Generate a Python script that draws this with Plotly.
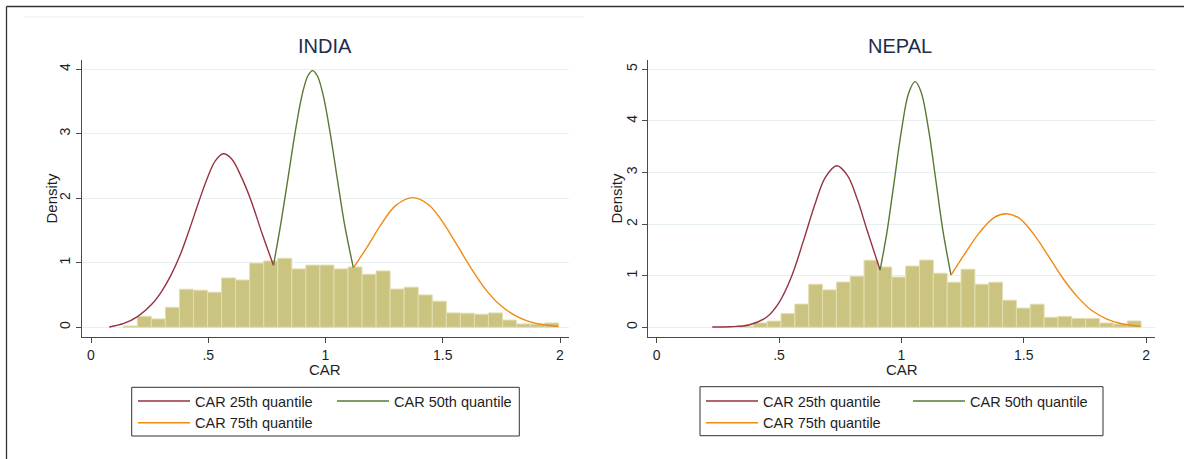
import plotly.graph_objects as go

# ---------------- data ----------------
india_bin_start = 0.1375
india_bin_width = 0.0599
india_hist = [0.02, 0.17, 0.13, 0.31, 0.59, 0.575, 0.544, 0.765, 0.733, 0.995, 1.028, 1.07,
              0.905, 0.964, 0.964, 0.905, 0.935, 0.822, 0.874, 0.593, 0.622, 0.502, 0.405,
              0.223, 0.218, 0.202, 0.223, 0.112, 0.052, 0.052, 0.067]

nepal_bin_start = 0.3383
nepal_bin_width = 0.0566
nepal_hist = [0.02, 0.085, 0.12, 0.265, 0.45, 0.835, 0.725, 0.877, 0.99, 1.30, 1.17, 0.974,
              1.187, 1.303, 1.048, 0.874, 1.125, 0.835, 0.874, 0.525, 0.372, 0.448, 0.194,
              0.212, 0.172, 0.172, 0.084, 0.065, 0.123]

india_q25_x = [0.078, 0.14, 0.20, 0.26, 0.30, 0.34, 0.38, 0.42, 0.46, 0.50, 0.53, 0.564,
               0.60, 0.64, 0.68, 0.73, 0.778]
india_q25_y = [0.005, 0.06, 0.17, 0.36, 0.55, 0.80, 1.12, 1.52, 1.95, 2.35, 2.58, 2.69,
               2.61, 2.34, 1.99, 1.45, 0.96]
india_q50_x = [0.778, 0.81, 0.84, 0.87, 0.90, 0.925, 0.945, 0.965, 0.99, 1.02, 1.05, 1.08, 1.119]
india_q50_y = [0.96, 1.62, 2.31, 3.01, 3.60, 3.90, 3.98, 3.90, 3.60, 3.01, 2.31, 1.62, 0.92]
india_q75_x = [1.119, 1.18, 1.24, 1.30, 1.372, 1.44, 1.50, 1.56, 1.62, 1.68, 1.74, 1.80,
               1.86, 1.93, 1.993]
india_q75_y = [0.92, 1.26, 1.61, 1.89, 2.01, 1.90, 1.63, 1.28, 0.92, 0.60, 0.36, 0.20,
               0.10, 0.04, 0.015]

nepal_q25_x = [0.227, 0.30, 0.38, 0.45, 0.50, 0.55, 0.60, 0.65, 0.69, 0.736, 0.78, 0.82,
               0.86, 0.913]
nepal_q25_y = [0.005, 0.01, 0.05, 0.20, 0.48, 0.97, 1.68, 2.43, 2.91, 3.13, 2.94, 2.48,
               1.88, 1.11]
nepal_q50_x = [0.913, 0.94, 0.97, 1.00, 1.03, 1.056, 1.08, 1.11, 1.14, 1.17, 1.203]
nepal_q50_y = [1.11, 1.81, 2.80, 3.80, 4.54, 4.76, 4.57, 3.87, 2.88, 1.87, 1.01]
nepal_q75_x = [1.203, 1.26, 1.32, 1.38, 1.4275, 1.48, 1.54, 1.60, 1.66, 1.72, 1.78, 1.84,
               1.90, 1.978]
nepal_q75_y = [1.01, 1.43, 1.84, 2.13, 2.20, 2.12, 1.81, 1.39, 0.95, 0.59, 0.32, 0.16,
               0.07, 0.02]

x_tickvals = [0, 0.5, 1, 1.5, 2]
x_ticktext = ["0", ".5", "1", "1.5", "2"]
india_y_ticks = [0, 1, 2, 3, 4]
nepal_y_ticks = [0, 1, 2, 3, 4, 5]

panel_titles = ["INDIA", "NEPAL"]
series_names = ["CAR 25th quantile", "CAR 50th quantile", "CAR 75th quantile"]

# ---------------- styling ----------------
W, H = 1184, 459
FONT = "Liberation Sans, Arial, Helvetica, sans-serif"
C25, C50, C75 = "#963241", "#587834", "#f08a12"
BAR_FILL = "#cac480"
BAR_LINE = "#e2deb0"
GRID = "#e8eff1"
AXIS = "#4a4a4a"
TXT = "#1f1f1f"


def px(x):
    return x / W


def py(y):
    return 1 - y / H


fig = go.Figure()


def edges(start, width, n):
    return [round(start + i * width, 4) for i in range(n)]


panels = [
    dict(xa="x", ya="y", start=india_bin_start, width=india_bin_width, hist=india_hist,
         curves=[(india_q25_x, india_q25_y), (india_q50_x, india_q50_y), (india_q75_x, india_q75_y)],
         legends=["legend", "legend2", "legend"]),
    dict(xa="x2", ya="y2", start=nepal_bin_start, width=nepal_bin_width, hist=nepal_hist,
         curves=[(nepal_q25_x, nepal_q25_y), (nepal_q50_x, nepal_q50_y), (nepal_q75_x, nepal_q75_y)],
         legends=["legend3", "legend4", "legend3"]),
]
colors = [C25, C50, C75]

for p in panels:
    fig.add_trace(go.Bar(
        x=edges(p["start"], p["width"], len(p["hist"])), y=p["hist"],
        width=p["width"], offset=0,
        marker=dict(color=BAR_FILL, line=dict(color=BAR_LINE, width=1)),
        xaxis=p["xa"], yaxis=p["ya"], showlegend=False, hoverinfo="skip"))
    for (cx, cy), name, col, lg in zip(p["curves"], series_names, colors, p["legends"]):
        fig.add_trace(go.Scatter(
            x=cx, y=cy, mode="lines", name=name,
            line=dict(color=col, width=1.4, shape="spline", smoothing=1.0),
            xaxis=p["xa"], yaxis=p["ya"], legend=lg))

axis_common = dict(showline=True, linecolor=AXIS, linewidth=1, ticks="outside", ticklen=5,
                   tickcolor=AXIS, tickwidth=1, zeroline=False,
                   tickfont=dict(family=FONT, size=14, color=TXT))

ytop, ybot = 60, 336.7
fig.update_layout(
    width=W, height=H, autosize=False,
    margin=dict(l=0, r=0, t=0, b=0),
    paper_bgcolor="white", plot_bgcolor="white",
    barmode="overlay",
    font=dict(family=FONT, color=TXT),
    xaxis=dict(domain=[px(82), px(569)], range=[-0.0384, 2.0384], anchor="y",
               tickvals=x_tickvals, ticktext=x_ticktext, showgrid=False, **axis_common),
    yaxis=dict(domain=[py(ybot), py(ytop)], range=[-0.146, 4.144], anchor="x",
               tickvals=india_y_ticks, tickangle=-90, showgrid=True, gridcolor=GRID,
               gridwidth=1, **axis_common),
    xaxis2=dict(domain=[px(648.3), px(1155)], range=[-0.0343, 2.0367], anchor="y2",
                tickvals=x_tickvals, ticktext=x_ticktext, showgrid=False, **axis_common),
    yaxis2=dict(domain=[py(ybot), py(ytop)], range=[-0.182, 5.18], anchor="x2",
                tickvals=nepal_y_ticks, tickangle=-90, showgrid=True, gridcolor=GRID,
                gridwidth=1, **axis_common),
)

leg_common = dict(orientation="v", xanchor="left", yanchor="top", bgcolor="rgba(0,0,0,0)",
                  borderwidth=0, itemwidth=52, tracegroupgap=0,
                  font=dict(family=FONT, size=14.5, color=TXT))
LEG_TOP = 385
fig.update_layout(
    legend=dict(x=px(133), y=py(LEG_TOP), **leg_common),
    legend2=dict(x=px(332), y=py(LEG_TOP), **leg_common),
    legend3=dict(x=px(701), y=py(LEG_TOP), **leg_common),
    legend4=dict(x=px(908), y=py(LEG_TOP), **leg_common),
)

annots = []
for title, cx in zip(panel_titles, [325.5, 900]):
    annots.append(dict(text=title, x=px(cx), y=py(46), xref="paper", yref="paper",
                       showarrow=False, xanchor="center", yanchor="middle",
                       font=dict(family=FONT, size=20, color="#1e2b4e")))
for cx in [50.5, 615.5]:
    annots.append(dict(text="Density", x=px(cx), y=py(198), xref="paper", yref="paper",
                       showarrow=False, xanchor="center", yanchor="middle", textangle=-90,
                       font=dict(family=FONT, size=15, color=TXT)))
for cx in [325.5, 901.6]:
    annots.append(dict(text="CAR", x=px(cx), y=py(369), xref="paper", yref="paper",
                       showarrow=False, xanchor="center", yanchor="middle",
                       font=dict(family=FONT, size=15, color=TXT)))
fig.update_layout(annotations=annots)

shapes = [
    dict(type="line", xref="paper", yref="paper", x0=px(6.5), x1=px(6.5), y0=py(6.5), y1=py(470),
         line=dict(color="#333333", width=1.3)),
    dict(type="line", xref="paper", yref="paper", x0=px(6.5), x1=px(1195), y0=py(6.5), y1=py(6.5),
         line=dict(color="#333333", width=1.3)),
    dict(type="line", xref="paper", yref="paper", x0=px(23), x1=px(584), y0=py(17), y1=py(17),
         line=dict(color="#eef0f0", width=1)),
    dict(type="rect", xref="paper", yref="paper", x0=px(131.7), x1=px(519.3), y0=py(436), y1=py(387.3),
         line=dict(color="#333333", width=1)),
    dict(type="rect", xref="paper", yref="paper", x0=px(700), x1=px(1103), y0=py(435.7), y1=py(386.7),
         line=dict(color="#333333", width=1)),
]
fig.update_layout(shapes=shapes)

fig.write_html("out.html")
